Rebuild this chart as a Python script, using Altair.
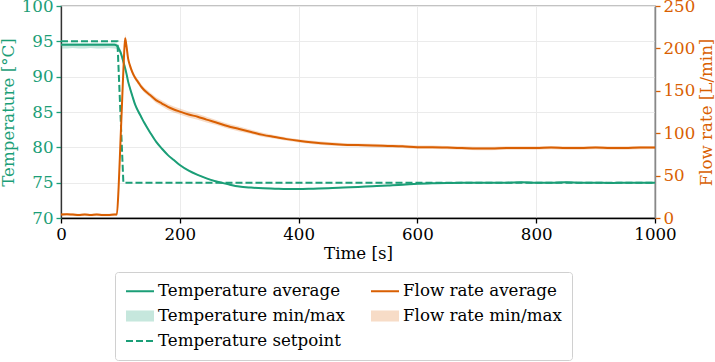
import altair as alt
import pandas as pd

GREEN = "#1b9e77"
ORANGE = "#d95f02"
FONT = "DejaVu Serif, Liberation Serif, serif"
FS = 16.67

t = [0, 10, 20, 30, 40, 50, 60, 70, 80, 90,
     94, 97, 100, 103, 106, 108, 110, 113, 116, 120,
     125, 130, 135, 140,
     150, 160, 170, 180, 190, 200,
     215, 230, 245, 260,
     280, 300, 320, 340, 360, 380, 400,
     425, 450, 475, 500, 525, 550, 575, 600, 625, 650, 675, 700,
     725, 750, 775, 800, 825, 850, 875, 900, 925, 950, 975, 1000]

temp_avg = [94.5, 94.5, 94.5, 94.5, 94.5, 94.5, 94.5, 94.5, 94.5, 94.5,
            94.4, 94.0, 93.5, 92.7, 91.8, 91.2, 90.5, 89.3, 88.4, 87.3,
            86.0, 85.1, 84.3, 83.5,
            82.1, 80.8, 79.8, 78.9, 78.2, 77.5,
            76.7, 76.1, 75.6, 75.2,
            74.8, 74.45, 74.3, 74.2, 74.15, 74.1, 74.1,
            74.15, 74.2, 74.3, 74.4, 74.5, 74.6, 74.7, 74.85, 74.9, 74.95, 75.0, 75.0,
            75.0, 75.0, 75.05, 75.0, 75.0, 75.05, 75.0, 75.0, 74.95, 75.0, 75.0, 75.0]
temp_min = [94.0, 94.0, 94.05, 94.0, 94.0, 94.05, 94.0, 94.0, 94.05, 94.0,
            93.9, 93.6, 93.1, 92.3, 91.4, 90.8, 90.2, 89.0, 88.1, 87.0,
            85.8, 84.9, 84.1, 83.3,
            81.95, 80.65, 79.7, 78.8, 78.1, 77.4,
            76.6, 76.0, 75.5, 75.1,
            74.7, 74.35, 74.2, 74.1, 74.05, 74.0, 74.0,
            74.05, 74.1, 74.2, 74.3, 74.4, 74.5, 74.6, 74.75, 74.8, 74.85, 74.9, 74.9,
            74.9, 74.9, 74.95, 74.9, 74.9, 74.95, 74.9, 74.9, 74.85, 74.9, 74.9, 74.9]
temp_max = [94.75, 94.75, 94.8, 94.75, 94.75, 94.75, 94.8, 94.75, 94.75, 94.75,
            94.7, 94.4, 93.9, 93.1, 92.2, 91.6, 90.8, 89.6, 88.7, 87.6,
            86.2, 85.3, 84.5, 83.7,
            82.25, 80.95, 79.9, 79.0, 78.3, 77.6,
            76.8, 76.2, 75.7, 75.3,
            74.9, 74.55, 74.4, 74.3, 74.25, 74.2, 74.2,
            74.25, 74.3, 74.4, 74.5, 74.6, 74.7, 74.8, 74.95, 75.0, 75.05, 75.1, 75.1,
            75.1, 75.1, 75.15, 75.1, 75.1, 75.15, 75.1, 75.1, 75.05, 75.1, 75.1, 75.1]

flow_avg = [4.0, 4.5, 4.0, 3.5, 4.0, 3.5, 4.0, 3.5, 3.5, 4.0,
            4.0, 36, 88, 140, 190, 212, 204, 188, 180, 172,
            165, 160, 155, 151,
            145, 139, 135, 131, 128, 125.5,
            122, 119.5, 116, 113,
            108.5, 105, 101.5, 98, 95.5, 93, 91,
            89, 87.5, 86.5, 86, 85.5, 85, 84.5, 83.5, 83.5, 83, 82.5, 82,
            82, 82.5, 82.5, 82.5, 83, 82.5, 82.5, 83, 82.5, 82.5, 83, 83]
flow_min = [2.5, 3.0, 2.5, 2.0, 2.5, 2.0, 2.5, 2.0, 2.0, 2.5,
            2.5, 33, 85, 137, 186, 208, 200, 185, 177, 169,
            162, 157, 152, 148,
            142, 135.5, 131.5, 127.5, 124.5, 122,
            118.5, 116, 112.5, 110,
            105.5, 102, 99, 95.5, 93.5, 91, 89,
            87, 85.5, 84.5, 84, 83.5, 83, 82.5, 81.5, 81.5, 81, 80.5, 80,
            80, 80.5, 80.5, 80.5, 81, 80.5, 80.5, 81, 80.5, 80.5, 81, 81.5]
flow_max = [5.5, 6.0, 5.5, 5.0, 5.5, 5.0, 5.5, 5.0, 5.0, 5.5,
            5.5, 39, 91, 143, 194, 217, 208, 191, 183, 175,
            168, 163, 158, 154,
            148, 142.5, 138.5, 134.5, 131.5, 129,
            125.5, 123, 119.5, 116,
            111.5, 108, 104, 100.5, 97.5, 95, 93,
            91, 89.5, 88.5, 88, 87.5, 87, 86.5, 85.5, 85.5, 85, 84.5, 84,
            84, 84.5, 84.5, 84.5, 85, 84.5, 84.5, 85, 84.5, 84.5, 85, 84.5]

sp_t = [0, 95, 105, 1000]
sp_v = [95, 95, 75, 75]

x_ticks = [0, 200, 400, 600, 800, 1000]
temp_ticks = [70, 75, 80, 85, 90, 95, 100]
flow_ticks = [0, 50, 100, 150, 200, 250]

# legend entries, column-major order (3 rows x 2 columns)
series = ["Temperature average", "Temperature min/max", "Temperature setpoint",
          "Flow rate average", "Flow rate min/max"]

temp_df = pd.DataFrame({"t": t, "avg": temp_avg, "lo": temp_min, "hi": temp_max})
flow_df = pd.DataFrame({"t": t, "avg": flow_avg, "lo": flow_min, "hi": flow_max})
sp_df = pd.DataFrame({"t": sp_t, "v": sp_v})
leg_df = pd.DataFrame({"series": series, "t": [-500] * len(series)})

x_scale = alt.Scale(domain=[0, 1000], nice=False, zero=False)
x_axis = alt.Axis(values=x_ticks, title="Time [s]", labelFlush=False,
                  labelColor="black", tickColor="black", domainColor="black",
                  titleColor="black", grid=True, gridColor="#ebebeb",
                  tickSize=5, tickWidth=1.3, domainWidth=1.3, labelPadding=3,
                  titlePadding=3, format="d")
X = alt.X("t:Q", scale=x_scale, axis=x_axis)

temp_scale = alt.Scale(domain=[70, 100], nice=False, zero=False)
temp_axis = alt.Axis(values=temp_ticks, orient="left", title="Temperature [°C]",
                     labelColor=GREEN, tickColor=GREEN, titleColor=GREEN,
                     domainColor="#333333", grid=True, gridColor="#ebebeb",
                     tickSize=5, tickWidth=1.3, domainWidth=1.3, labelPadding=3,
                     titlePadding=4, format="d")
flow_scale = alt.Scale(domain=[0, 250], nice=False, zero=False)
flow_axis = alt.Axis(values=flow_ticks, orient="right", title="Flow rate [L/min]",
                     labelColor=ORANGE, tickColor=ORANGE, titleColor=ORANGE,
                     domainColor="#888888", grid=False, titleAngle=270,
                     titleBaseline="top",
                     tickSize=5, tickWidth=1.3, domainWidth=1.5, labelPadding=3,
                     titlePadding=4, format="d")

temp_band = alt.Chart(temp_df).mark_area(color=GREEN, opacity=0.25).encode(
    x=X, y=alt.Y("lo:Q", scale=temp_scale, axis=temp_axis), y2="hi:Q")
temp_line = alt.Chart(temp_df).mark_line(color=GREEN, strokeWidth=2, interpolate="monotone").encode(
    x=X, y=alt.Y("avg:Q", scale=temp_scale, axis=temp_axis))
sp_line = alt.Chart(sp_df).mark_line(color=GREEN, strokeWidth=2, strokeDash=[7, 3]).encode(
    x=X, y=alt.Y("v:Q", scale=temp_scale, axis=temp_axis))

flow_band = alt.Chart(flow_df).mark_area(color=ORANGE, opacity=0.22).encode(
    x=X, y=alt.Y("lo:Q", scale=flow_scale, axis=flow_axis), y2="hi:Q")
flow_line = alt.Chart(flow_df).mark_line(color=ORANGE, strokeWidth=2, interpolate="monotone").encode(
    x=X, y=alt.Y("avg:Q", scale=flow_scale, axis=flow_axis))

LINE = "M-1.75,0H1.75"
PATCH = "M-1.75,-0.69H1.75V0.69H-1.75Z"
legend = alt.Legend(title=None, orient="none", legendX=54, legendY=266, columns=2,
                    symbolSize=256, symbolOffset=6, labelOffset=9, columnPadding=22,
                    rowPadding=6, padding=10, labelFont=FONT, labelFontSize=FS,
                    labelColor="black", labelLimit=400, strokeColor="#d0d0d0",
                    fillColor="white", cornerRadius=3, symbolStrokeWidth=2)
leg_layer = alt.Chart(leg_df).mark_point(clip=True, opacity=1, strokeWidth=2).encode(
    x=X,
    stroke=alt.Stroke("series:N", scale=alt.Scale(domain=series,
                      range=[GREEN, "transparent", GREEN, ORANGE, "transparent"]), legend=legend),
    fill=alt.Fill("series:N", scale=alt.Scale(domain=series,
                  range=["transparent", "#c6e7dd", "transparent", "transparent", "#f7dcc7"]), legend=legend),
    shape=alt.Shape("series:N", scale=alt.Scale(domain=series,
                    range=[LINE, PATCH, LINE, LINE, PATCH]), legend=legend),
    strokeDash=alt.StrokeDash("series:N", scale=alt.Scale(domain=series,
                              range=[[1, 0], [1, 0], [7, 3], [1, 0], [1, 0]]), legend=legend),
)

temp_layer = alt.layer(temp_band, temp_line, sp_line)
flow_layer = alt.layer(flow_band, flow_line)

chart = alt.layer(temp_layer, flow_layer, leg_layer).resolve_scale(
    y="independent"
).properties(
    width=594, height=212,
    autosize=alt.AutoSizeParams(type="none"),
    padding={"left": 61, "top": 6, "right": 60, "bottom": 144},
).configure(font=FONT).configure_view(
    stroke="#888888", strokeWidth=1.3
).configure_axis(
    labelFont=FONT, titleFont=FONT, labelFontSize=FS, titleFontSize=FS,
    titleFontWeight="normal"
)

chart.save("out.html", embed_options={"renderer": "svg", "actions": False})
